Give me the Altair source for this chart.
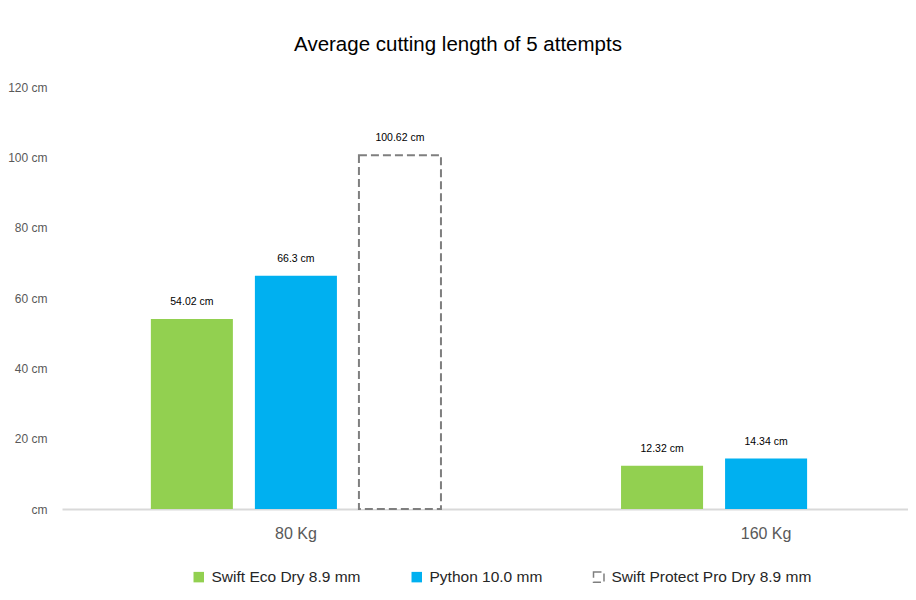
import altair as alt
import pandas as pd

groups = ["80 Kg", "80 Kg", "80 Kg", "160 Kg", "160 Kg"]
series = ["Swift Eco Dry 8.9 mm", "Python 10.0 mm", "Swift Protect Pro Dry 8.9 mm",
          "Swift Eco Dry 8.9 mm", "Python 10.0 mm"]
values = [54.02, 66.3, 100.62, 12.32, 14.34]

series_order = ["Swift Eco Dry 8.9 mm", "Python 10.0 mm", "Swift Protect Pro Dry 8.9 mm"]
fills = ["#92D050", "#00B0F0", "white"]
strokes = ["transparent", "transparent", "#7F7F7F"]
dashes = [[1, 0], [1, 0], [8, 4]]
group_order = ["80 Kg", "160 Kg"]
y_ticks = [0, 20, 40, 60, 80, 100, 120]

df = pd.DataFrame({"group": groups, "series": series, "value": values})

FONT = "Liberation Sans, Arial, sans-serif"

x_scale = alt.Scale(range=[0, 938], paddingInner=0.383, paddingOuter=0.189)
x_enc = alt.X("group:N", sort=group_order, title=None, scale=x_scale,
              axis=alt.Axis(labelAngle=0, labelFontSize=16, labelColor="#595959",
                            labelFont=FONT, ticks=False, domainColor="#D9D9D9",
                            domainWidth=2, labelPadding=16, grid=False))
xo_enc = alt.XOffset("series:N", sort=series_order,
                     scale=alt.Scale(domain=series_order, paddingInner=22/104, paddingOuter=0))

legend = alt.Legend(title=None, orient="none", legendX=129, legendY=482,
                    direction="horizontal",
                    symbolType="square", symbolSize=110, labelFontSize=15.5,
                    labelFont=FONT, labelColor="#262626", columnPadding=47,
                    labelOffset=5, symbolStrokeWidth=1.5, labelLimit=400)

bars = alt.Chart(df).mark_bar(strokeWidth=2).encode(
    x=x_enc,
    xOffset=xo_enc,
    y=alt.Y("value:Q", title=None,
            scale=alt.Scale(domain=[0, 120], nice=False),
            axis=alt.Axis(values=y_ticks, domain=False, ticks=False,
                          grid=False, labelFontSize=12, labelColor="#595959", labelFont=FONT,
                          labelPadding=15,
                          labelExpr="datum.value == 0 ? 'cm' : datum.label + ' cm'")),
    fill=alt.Fill("series:N", sort=series_order,
                  scale=alt.Scale(domain=series_order, range=fills), legend=legend),
    stroke=alt.Stroke("series:N", sort=series_order,
                      scale=alt.Scale(domain=series_order, range=strokes), legend=legend),
    strokeDash=alt.StrokeDash("series:N", sort=series_order,
                              scale=alt.Scale(domain=series_order, range=dashes), legend=legend),
)

labels = alt.Chart(df).transform_calculate(
    label="datum.value + ' cm'"
).mark_text(dy=-17, baseline="middle", fontSize=10.5, color="black", font=FONT).encode(
    x=alt.X("group:N", sort=group_order, scale=x_scale),
    xOffset=xo_enc,
    y=alt.Y("value:Q"),
    text="label:N",
)

chart = alt.layer(bars, labels).properties(
    width=846, height=422,
    title=alt.Title("Average cutting length of 5 attempts", fontSize=20.5, font=FONT,
                    fontWeight="normal", color="black", offset=26, frame="group", dx=-27),
    autosize=alt.AutoSizeParams(type="none"),
    padding={"left": 54, "top": 79, "right": 0, "bottom": 83},
).configure_view(stroke=None)

chart.save("out.html", embed_options={"renderer": "svg", "actions": False})
